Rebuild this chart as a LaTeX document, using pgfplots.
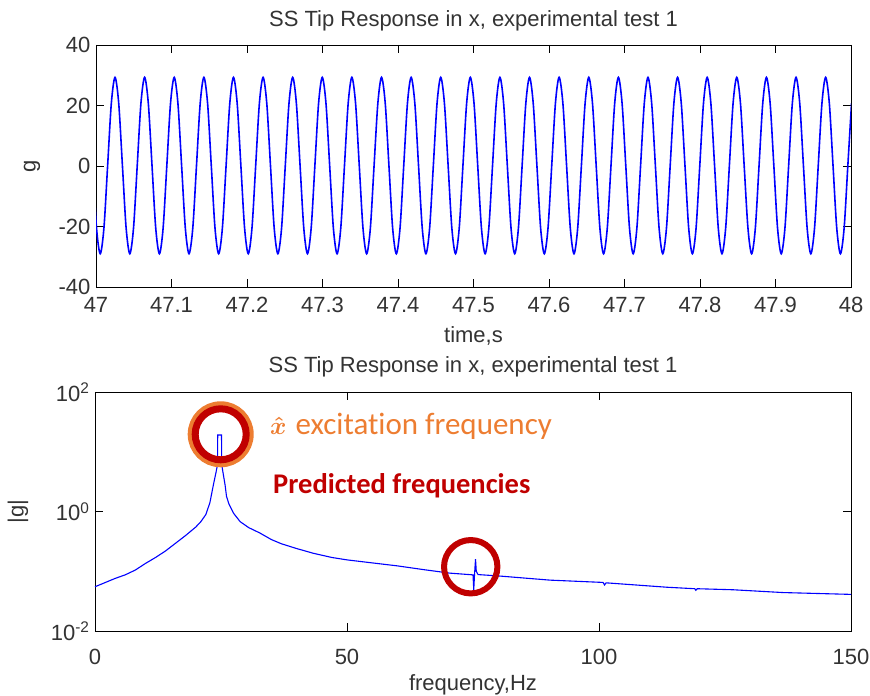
\documentclass[border=0pt]{standalone}
\usepackage{pgfplots}
\pgfplotsset{compat=1.18}
\usepackage{fontspec}
\setmainfont{Liberation Sans}
\newfontfamily\calibri[Ligatures=NoCommon]{Carlito}
\definecolor{txtgray}{HTML}{333333}
\definecolor{annorange}{HTML}{ED7D31}
\definecolor{annred}{HTML}{C00000}
\begin{document}
\begin{tikzpicture}
\path[use as bounding box] (0pt,0pt) rectangle (870pt,696pt);
\pgfplotsset{
  every axis title shift=0pt,
  matstyle/.style={
    scale only axis,
    anchor=south west,
    axis line style={black, line width=0.9pt},
    tick align=inside,
    major tick length=8pt,
    tick style={black, line width=0.9pt},
    ticklabel style={font=\fontsize{22}{22}\selectfont, text=txtgray},
    xticklabel style={yshift=-7pt},
    yticklabel style={xshift=-2pt},
    label style={font=\fontsize{22}{22}\selectfont, text=txtgray},
    title style={font=\fontsize{22}{22}\selectfont, text=txtgray},
    xtick pos=both, ytick pos=both,
  }
}
\begin{axis}[matstyle,
  at={(96pt,409pt)}, width=755pt, height=242pt,
  xmin=47, xmax=48, ymin=-40, ymax=40,
  xtick={47,47.1,47.2,47.3,47.4,47.5,47.6,47.7,47.8,47.9,48},
  xticklabels={47,47.1,47.2,47.3,47.4,47.5,47.6,47.7,47.8,47.9,48},
  ytick={-40,-20,0,20,40},
  yticklabels={-40,-20,0,20,40},
  title={SS Tip Response in x, experimental test 1},
  title style={at={(axis description cs:0.5,1.099)}, anchor=center},
  xlabel={time,s},
  xlabel style={at={(axis description cs:0.5,-0.2025)}, anchor=center},
  ylabel={g},
  ylabel style={at={(axis description cs:-0.0848,0.5)}, anchor=center, rotate=0},
]
\addplot[blue, line width=1.6pt, smooth] coordinates {
(46.9958,0.1)(47.0007,-20.5)
(47.0056,-29)(47.0105,-20.5)(47.0154,0.1)(47.0203,20.7)(47.0252,29.3)(47.0301,20.7)(47.0350,0.1)(47.0399,-20.5)
(47.0448,-29)(47.0497,-20.5)(47.0546,0.1)(47.0595,20.7)(47.0644,29.3)(47.0693,20.7)(47.0742,0.1)(47.0791,-20.5)
(47.0840,-29)(47.0889,-20.5)(47.0938,0.1)(47.0987,20.7)(47.1036,29.3)(47.1085,20.7)(47.1134,0.1)(47.1183,-20.5)
(47.1232,-29)(47.1282,-20.5)(47.1331,0.1)(47.1380,20.7)(47.1429,29.3)(47.1478,20.7)(47.1527,0.1)(47.1576,-20.5)
(47.1625,-29)(47.1674,-20.5)(47.1723,0.1)(47.1772,20.7)(47.1821,29.3)(47.1870,20.7)(47.1919,0.1)(47.1968,-20.5)
(47.2017,-29)(47.2066,-20.5)(47.2115,0.1)(47.2164,20.7)(47.2213,29.3)(47.2262,20.7)(47.2311,0.1)(47.2360,-20.5)
(47.2409,-29)(47.2458,-20.5)(47.2507,0.1)(47.2556,20.7)(47.2605,29.3)(47.2654,20.7)(47.2703,0.1)(47.2752,-20.5)
(47.2801,-29)(47.2850,-20.5)(47.2899,0.1)(47.2948,20.7)(47.2997,29.3)(47.3046,20.7)(47.3095,0.1)(47.3144,-20.5)
(47.3193,-29)(47.3242,-20.5)(47.3291,0.1)(47.3340,20.7)(47.3389,29.3)(47.3438,20.7)(47.3487,0.1)(47.3536,-20.5)
(47.3585,-29)(47.3634,-20.5)(47.3683,0.1)(47.3733,20.7)(47.3782,29.3)(47.3831,20.7)(47.3880,0.1)(47.3929,-20.5)
(47.3978,-29)(47.4027,-20.5)(47.4076,0.1)(47.4125,20.7)(47.4174,29.3)(47.4223,20.7)(47.4272,0.1)(47.4321,-20.5)
(47.4370,-29)(47.4419,-20.5)(47.4468,0.1)(47.4517,20.7)(47.4566,29.3)(47.4615,20.7)(47.4664,0.1)(47.4713,-20.5)
(47.4762,-29)(47.4811,-20.5)(47.4860,0.1)(47.4909,20.7)(47.4958,29.3)(47.5007,20.7)(47.5056,0.1)(47.5105,-20.5)
(47.5154,-29)(47.5203,-20.5)(47.5252,0.1)(47.5301,20.7)(47.5350,29.3)(47.5399,20.7)(47.5448,0.1)(47.5497,-20.5)
(47.5546,-29)(47.5595,-20.5)(47.5644,0.1)(47.5693,20.7)(47.5742,29.3)(47.5791,20.7)(47.5840,0.1)(47.5889,-20.5)
(47.5938,-29)(47.5987,-20.5)(47.6036,0.1)(47.6085,20.7)(47.6134,29.3)(47.6184,20.7)(47.6233,0.1)(47.6282,-20.5)
(47.6331,-29)(47.6380,-20.5)(47.6429,0.1)(47.6478,20.7)(47.6527,29.3)(47.6576,20.7)(47.6625,0.1)(47.6674,-20.5)
(47.6723,-29)(47.6772,-20.5)(47.6821,0.1)(47.6870,20.7)(47.6919,29.3)(47.6968,20.7)(47.7017,0.1)(47.7066,-20.5)
(47.7115,-29)(47.7164,-20.5)(47.7213,0.1)(47.7262,20.7)(47.7311,29.3)(47.7360,20.7)(47.7409,0.1)(47.7458,-20.5)
(47.7507,-29)(47.7556,-20.5)(47.7605,0.1)(47.7654,20.7)(47.7703,29.3)(47.7752,20.7)(47.7801,0.1)(47.7850,-20.5)
(47.7899,-29)(47.7948,-20.5)(47.7997,0.1)(47.8046,20.7)(47.8095,29.3)(47.8144,20.7)(47.8193,0.1)(47.8242,-20.5)
(47.8291,-29)(47.8340,-20.5)(47.8389,0.1)(47.8438,20.7)(47.8487,29.3)(47.8536,20.7)(47.8585,0.1)(47.8635,-20.5)
(47.8684,-29)(47.8733,-20.5)(47.8782,0.1)(47.8831,20.7)(47.8880,29.3)(47.8929,20.7)(47.8978,0.1)(47.9027,-20.5)
(47.9076,-29)(47.9125,-20.5)(47.9174,0.1)(47.9223,20.7)(47.9272,29.3)(47.9321,20.7)(47.9370,0.1)(47.9419,-20.5)
(47.9468,-29)(47.9517,-20.5)(47.9566,0.1)(47.9615,20.7)(47.9664,29.3)(47.9713,20.7)(47.9762,0.1)(47.9811,-20.5)
(47.9860,-29)(47.9909,-20.5)(47.9958,0.1)(48.0007,20.7)
};
\end{axis}
\begin{axis}[matstyle,
  at={(95pt,65pt)}, width=756pt, height=239pt,
  xmin=0, xmax=150, ymode=log, ymin=0.01, ymax=100,
  xtick={0,50,100,150}, xticklabels={0,50,100,150},
  xticklabel style={yshift=-8pt},
  ytick={0.01,1,100},
  yticklabels={10\textsuperscript{-2},10\textsuperscript{0},10\textsuperscript{2}},
  minor ytick={},
  title={SS Tip Response in x, experimental test 1},
  title style={at={(axis description cs:0.5,1.105)}, anchor=center},
  xlabel={frequency,Hz},
  xlabel style={at={(axis description cs:0.5,-0.226)}, anchor=center},
  ylabel={|g|},
  ylabel style={at={(axis description cs:-0.1019,0.5)}, anchor=center, rotate=0},
]
\addplot[blue, line width=1.1pt] coordinates {
(0,0.055)(2,0.0646)(4,0.0759)(6,0.0871)(8,0.1047)(10,0.1349)(12,0.1698)(14,0.2188)
(16,0.2951)(18,0.398)(19,0.468)(20,0.550)(21,0.676)(22,0.891)(22.8,1.41)(23.5,2.82)
(24,4.47)(24.3,6.03)(24.35,19.05)(25.1,19.05)(25.15,6.03)(25.5,3.98)(25.8,2.82)(26.1,1.78)
(26.6,1.32)(27.5,0.933)(28.8,0.676)(30.5,0.537)(32.7,0.437)(35,0.339)(37,0.288)(40,0.240)
(43.3,0.200)(47,0.170)(50,0.155)(55,0.138)(60,0.123)(65,0.107)(70.4,0.093)
(75.0,0.087)(75.15,0.049)(75.3,0.087)(75.5,0.16)(75.65,0.1)(76,0.088)(80.4,0.083)(90.3,0.071)
(100.8,0.065)(101.1,0.059)(101.4,0.064)(113.5,0.054)(119,0.051)(119.2,0.048)(119.5,0.051)
(126.6,0.049)(136.5,0.044)(150,0.041)
};
\draw[annorange, line width=8pt] (axis cs:24.94,19.6) circle[radius=29pt];
\draw[annred, line width=7pt] (axis cs:24.94,19.6) circle[radius=25.5pt];
\draw[annred, line width=6pt] (axis cs:74.55,0.119) circle[radius=26.7pt];
\end{axis}
\node[anchor=west, text=annorange, font=\calibri\fontsize{31}{31}\selectfont, inner sep=0pt] at (270pt,270pt) {{\boldmath$\hat{x}$}\hspace{9pt}excitation frequency};
\node[anchor=west, text=annred, font=\calibri\bfseries\fontsize{28.5}{28.5}\selectfont, inner sep=0pt] at (273pt,210pt) {Predicted frequencies};
\end{tikzpicture}
\end{document}
